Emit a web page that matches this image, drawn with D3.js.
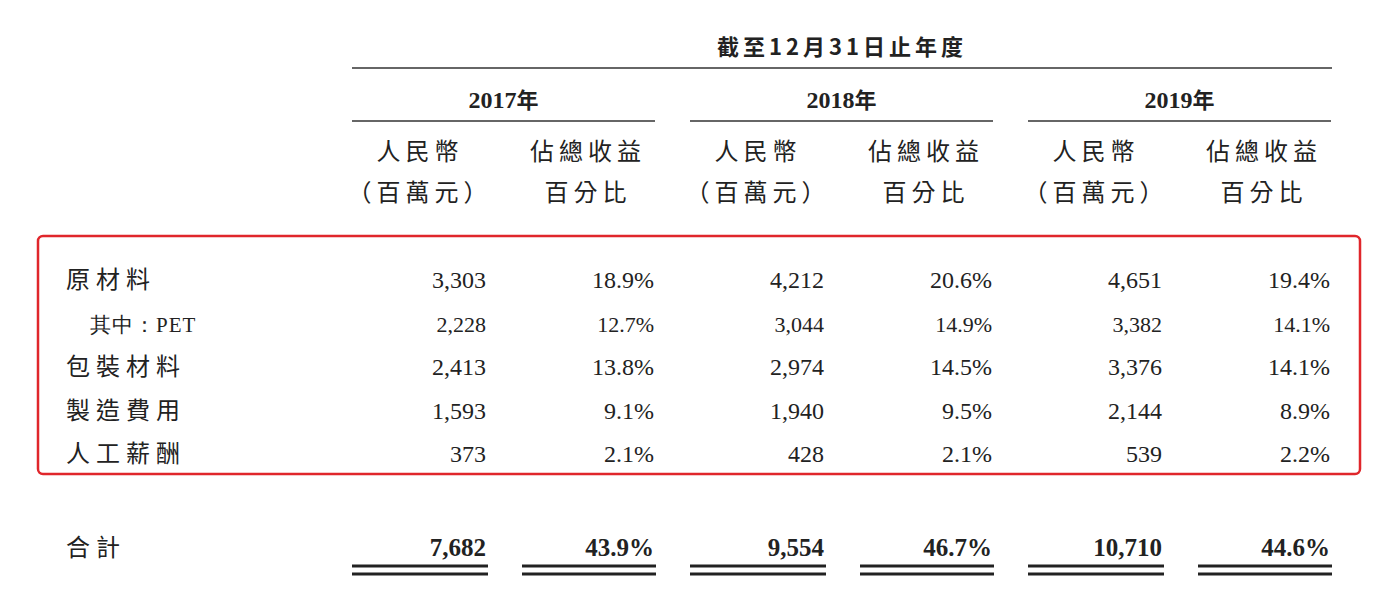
<!DOCTYPE html>
<html><head><meta charset="utf-8">
<script src="https://cdn.jsdelivr.net/npm/d3@7"></script>
<style>body{margin:0;background:#fff}</style>
</head><body>
<div id="chart-area"></div>
<script>
var years = ["2017年", "2018年", "2019年"]
var rowLabels = ["原材料", "其中：PET", "包裝材料", "製造費用", "人工薪酬"]
var rmb = [
  ["3,303", "4,212", "4,651"],
  ["2,228", "3,044", "3,382"],
  ["2,413", "2,974", "3,376"],
  ["1,593", "1,940", "2,144"],
  ["373", "428", "539"]
]
var pct = [
  ["18.9%", "20.6%", "19.4%"],
  ["12.7%", "14.9%", "14.1%"],
  ["13.8%", "14.5%", "14.1%"],
  ["9.1%", "9.5%", "8.9%"],
  ["2.1%", "2.1%", "2.2%"]
]
var totalLabel = "合計"
var totalRmb = ["7,682", "9,554", "10,710"]
var totalPct = ["43.9%", "46.7%", "44.6%"]

var cjk = "'Noto Sans CJK TC', sans-serif"
var num = "'Liberation Serif', 'DejaVu Serif', serif"

var svg = d3.select("#chart-area").append("svg")
  .attr("width", 1398).attr("height", 605)

var x = d3.scaleBand().domain(years).range([352, 1366]).paddingInner(0)
var yRow = d3.scalePoint().domain(d3.range(rowLabels.length)).range([280, 454])

function yearLeft(i) { return x(years[i]) }
var segW = 303

// title
svg.append("text").attr("x", 842).attr("y", 55).attr("text-anchor", "middle")
  .attr("font-family", cjk).attr("font-weight", "bold").attr("font-size", 22)
  .attr("letter-spacing", 4).attr("fill", "#222").text("截至12月31日止年度")
svg.append("line").attr("x1", 352).attr("x2", 1332).attr("y1", 68).attr("y2", 68)
  .attr("stroke", "#333").attr("stroke-width", 1.5)

years.forEach(function (yr, i) {
  var l = yearLeft(i)
  svg.append("text").attr("x", l + segW / 2).attr("y", 108).attr("text-anchor", "middle")
    .attr("font-family", num).attr("font-weight", "bold").attr("font-size", 24)
    .attr("fill", "#222").text(yr.slice(0, 4))
    .append("tspan").attr("font-family", cjk).attr("font-size", 22).text(yr.slice(4))
  svg.append("line").attr("x1", l).attr("x2", l + segW).attr("y1", 121).attr("y2", 121)
    .attr("stroke", "#333").attr("stroke-width", 1.5)
  var heads = [[l + 68, "人民幣", "（百萬元）"], [l + 236, "佔總收益", "百分比"]]
  heads.forEach(function (h) {
    svg.append("text").attr("x", h[0]).attr("y", 160).attr("text-anchor", "middle")
      .attr("font-family", cjk).attr("font-size", 24).attr("letter-spacing", 5)
      .attr("fill", "#222").text(h[1])
    svg.append("text").attr("x", h[0]).attr("y", 201).attr("text-anchor", "middle")
      .attr("font-family", cjk).attr("font-size", 24).attr("letter-spacing", 5)
      .attr("fill", "#222").text(h[2])
  })
})

// red box
svg.append("rect").attr("x", 38).attr("y", 236).attr("width", 1322).attr("height", 238)
  .attr("rx", 5).attr("fill", "none").attr("stroke", "#e0262b").attr("stroke-width", 2.5)

rowLabels.forEach(function (lab, r) {
  var yy = yRow(r) + 8
  var sub = r === 1
  svg.append("text").attr("x", sub ? 90 : 66).attr("y", yy)
    .attr("font-family", sub ? num : cjk).attr("font-size", sub ? 21 : 24)
    .attr("letter-spacing", sub ? 1 : 6).attr("fill", "#222")
    .text(lab)
  years.forEach(function (yr, i) {
    var l = yearLeft(i)
    svg.append("text").attr("x", l + 134).attr("y", yy).attr("text-anchor", "end")
      .attr("font-family", num).attr("font-size", sub ? 22 : 24).attr("fill", "#222").text(rmb[r][i])
    svg.append("text").attr("x", l + 302).attr("y", yy).attr("text-anchor", "end")
      .attr("font-family", num).attr("font-size", sub ? 22 : 24).attr("fill", "#222").text(pct[r][i])
  })
})

// total row
svg.append("text").attr("x", 66).attr("y", 556).attr("font-family", cjk)
  .attr("font-size", 24).attr("letter-spacing", 6).attr("fill", "#222").text(totalLabel)
years.forEach(function (yr, i) {
  var l = yearLeft(i)
  svg.append("text").attr("x", l + 134).attr("y", 556).attr("text-anchor", "end")
    .attr("font-family", num).attr("font-weight", "bold").attr("font-size", 25).attr("fill", "#222").text(totalRmb[i])
  svg.append("text").attr("x", l + 302).attr("y", 556).attr("text-anchor", "end")
    .attr("font-family", num).attr("font-weight", "bold").attr("font-size", 25).attr("fill", "#222").text(totalPct[i])
  ;[[l, l + 136], [l + 170, l + 304]].forEach(function (s) {
    ;[566, 574].forEach(function (yy) {
      svg.append("line").attr("x1", s[0]).attr("x2", s[1]).attr("y1", yy).attr("y2", yy)
        .attr("stroke", "#222").attr("stroke-width", 3)
    })
  })
})
</script>
</body></html>
